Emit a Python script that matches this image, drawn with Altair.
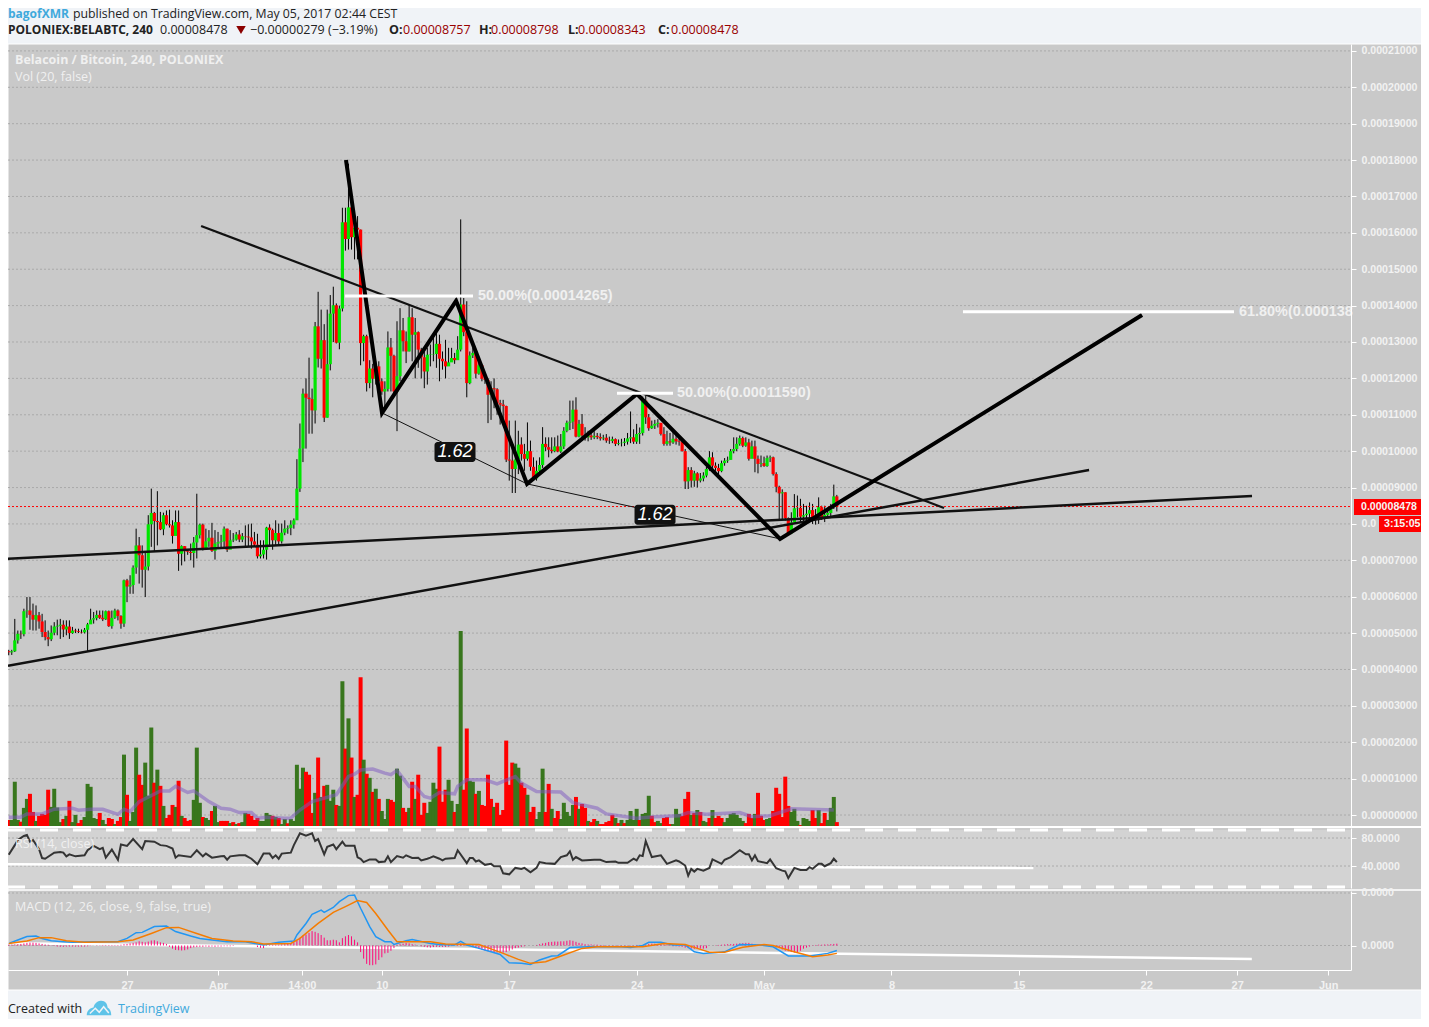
import json
import altair as alt
import pandas as pd

# ---- candles, in units of 0.00001 BTC (open of each bar = close of previous bar)
first_open = 4.50
closes = [
 4.47,4.50,4.80,4.98,4.97,5.60,5.62,5.50,5.37,5.49,
 5.32,5.03,4.89,4.83,5.01,5.18,5.20,5.23,5.10,5.18,
 5.00,5.07,5.05,5.03,5.02,5.09,5.24,5.37,5.41,5.50,
 5.42,5.38,5.60,5.19,5.42,5.62,5.47,5.26,6.45,6.28,
 6.32,6.80,7.41,7.14,6.74,6.83,7.99,8.30,8.08,8.05,
 7.85,8.24,7.99,7.96,7.67,8.05,7.18,7.39,7.25,7.23,
 7.20,7.49,7.69,7.98,7.32,7.52,7.62,7.26,7.46,7.50,
 7.52,7.87,7.29,7.55,7.57,7.71,7.57,7.66,7.65,7.63,
 7.52,7.43,7.11,7.16,7.29,7.90,7.83,7.55,7.75,7.52,
 7.76,7.87,7.89,7.98,8.10,8.97,10.07,11.58,11.47,11.43,
 11.12,13.43,12.54,13.05,10.92,12.39,13.78,14.01,12.98,13.92,
 16.29,15.83,16.70,15.88,16.14,16.09,12.97,13.16,11.87,12.27,
 11.99,12.33,11.92,11.64,11.71,12.85,12.62,11.64,12.06,13.32,
 13.02,12.74,13.68,13.20,13.27,12.79,12.58,12.19,12.65,12.66,
 12.67,12.95,12.54,12.47,12.33,12.44,12.56,12.50,12.79,14.03,
 13.27,11.87,12.63,12.70,12.13,12.36,11.99,11.96,11.55,11.73,
 11.70,11.32,11.28,11.24,9.77,9.74,9.51,9.77,10.18,9.92,
 9.79,10.00,9.57,9.25,9.46,9.62,10.20,10.11,10.04,10.00,
 10.13,9.99,10.13,10.56,10.78,10.81,11.14,10.40,10.75,10.43,
 10.38,10.43,10.38,10.42,10.39,10.35,10.37,10.29,10.28,10.33,
 10.20,10.22,10.23,10.26,10.35,10.38,10.26,10.47,10.50,11.39,
 10.93,10.63,10.70,10.75,10.78,10.47,10.20,10.27,10.24,10.34,
 10.27,10.25,10.00,9.17,9.48,9.19,9.39,9.19,9.25,9.33,
 9.51,9.83,9.60,9.54,9.45,9.67,9.74,9.76,10.00,10.06,
 10.20,10.36,10.15,10.24,9.79,10.13,9.79,9.65,9.67,9.59,
 9.81,9.83,9.37,9.02,8.84,8.87,8.16,7.74,8.04,8.43,
 8.44,8.20,8.24,8.28,8.38,8.16,8.22,8.46,8.18,8.25,
 8.30,8.46,8.757,8.478]
highs = [
 4.54,4.54,5.39,5.07,5.07,5.67,5.99,5.99,5.81,5.76,
 5.58,5.53,5.35,5.07,5.21,5.30,5.37,5.39,5.35,5.35,
 5.35,5.17,5.12,5.12,5.10,5.14,5.28,5.67,5.58,5.62,
 5.62,5.62,5.62,5.62,5.62,5.67,5.65,5.49,6.47,6.49,
 6.59,6.86,7.87,7.64,7.41,7.23,8.24,8.97,8.33,8.90,
 8.33,8.31,8.37,8.39,8.10,8.37,8.37,7.41,7.39,7.30,
 7.46,7.64,8.83,8.01,8.01,7.87,7.83,8.03,7.83,7.78,
 7.70,7.93,7.87,7.83,7.75,7.78,7.83,7.75,7.96,7.99,
 8.01,7.78,7.73,7.55,7.55,7.92,7.99,7.87,8.10,8.01,
 8.01,8.10,7.96,8.10,8.15,9.78,10.76,11.72,12.00,12.57,
 11.72,13.55,14.38,13.89,13.49,13.89,14.29,14.52,14.06,14.00,
 16.69,16.69,17.90,17.00,16.46,16.46,16.09,13.20,13.20,12.50,
 12.40,12.47,12.47,12.00,11.92,13.29,13.11,12.65,13.57,13.93,
 13.66,13.29,14.03,13.93,13.66,13.29,12.84,12.74,12.84,12.93,
 13.25,13.29,13.20,12.74,13.06,12.84,12.84,12.70,13.16,16.37,
 14.21,14.12,12.74,12.84,12.74,12.56,12.38,12.03,12.00,11.92,
 12.00,11.73,11.41,11.41,11.25,10.84,10.10,10.84,10.56,10.38,
 10.20,10.79,10.29,9.83,9.74,9.83,10.66,10.38,10.38,10.38,
 10.38,10.43,10.47,10.66,10.84,11.39,11.39,11.48,10.86,11.02,
 10.66,10.56,10.50,10.55,10.50,10.49,10.45,10.47,10.40,10.40,
 10.35,10.32,10.34,10.36,10.50,11.09,10.60,10.75,10.65,11.50,
 11.53,11.02,10.84,10.86,10.88,10.75,10.66,10.56,10.50,10.56,
 10.45,10.40,10.29,10.06,9.56,9.56,9.46,9.42,9.40,9.42,
 9.57,10.00,9.97,9.69,9.65,9.74,9.81,9.85,10.06,10.38,
 10.38,10.43,10.40,10.38,10.34,10.29,10.29,9.88,9.88,9.85,
 9.88,9.88,9.85,9.42,9.05,8.95,8.87,8.18,8.32,8.82,
 8.78,8.69,8.55,8.50,8.59,8.55,8.41,8.73,8.50,8.50,
 8.45,8.55,9.08,8.798]
lows = [
 4.39,4.40,4.48,4.71,4.84,4.91,5.42,5.09,5.07,5.07,
 5.12,4.89,4.80,4.64,4.78,4.94,4.94,4.84,4.89,4.94,
 4.84,4.98,5.00,5.00,4.99,4.99,4.48,5.26,5.26,5.35,
 5.39,5.33,5.36,5.17,5.12,5.39,5.35,5.12,5.17,5.85,
 6.08,6.08,6.63,6.36,6.25,5.99,6.72,7.37,7.23,7.41,
 7.83,7.69,7.96,7.90,7.46,7.73,6.71,6.86,6.97,7.15,
 7.00,6.80,7.05,7.60,7.27,7.29,7.37,7.23,7.02,7.32,
 7.35,7.32,7.23,7.32,7.50,7.54,7.50,7.50,7.37,7.38,
 7.32,7.37,7.05,7.05,7.05,7.02,7.37,7.29,7.41,7.41,
 7.46,7.69,7.73,7.69,7.87,8.12,8.88,9.70,10.07,10.48,
 10.48,10.76,12.30,12.27,10.80,10.92,12.22,13.00,12.96,12.80,
 13.84,15.51,15.54,15.54,15.27,15.27,12.36,12.47,11.64,11.73,
 11.48,11.83,11.55,11.55,11.18,11.64,11.64,11.55,10.55,11.92,
 12.74,12.42,12.74,12.47,12.00,12.29,12.00,11.73,11.83,12.33,
 12.47,12.29,11.92,12.24,12.00,12.38,12.47,12.40,12.52,12.74,
 13.16,11.48,11.84,12.56,12.00,12.10,11.92,11.85,10.77,10.86,
 11.18,11.00,10.73,10.73,9.70,9.19,8.85,8.85,9.37,9.74,
 9.46,9.74,9.46,9.19,9.19,9.42,9.54,10.00,9.83,9.94,
 9.97,9.97,9.95,10.06,10.52,10.58,10.61,10.38,10.38,10.38,
 10.29,10.27,10.31,10.33,10.33,10.29,10.30,10.23,10.20,10.22,
 10.14,10.16,10.13,10.14,10.18,10.22,10.20,10.20,10.20,10.43,
 10.75,10.56,10.61,10.61,10.65,10.43,10.15,10.15,10.15,10.20,
 10.18,10.15,9.99,8.96,8.96,9.00,9.02,9.00,9.14,9.17,
 9.28,9.46,9.54,9.46,9.37,9.42,9.60,9.68,9.77,9.94,
 10.00,10.15,10.11,10.12,9.74,9.97,9.42,9.39,9.56,9.57,
 9.57,9.70,9.33,8.87,8.13,8.13,8.09,7.72,7.72,8.09,
 8.18,8.04,8.00,8.09,8.04,8.00,7.98,8.00,8.11,8.05,
 8.16,8.16,8.41,8.343]

# ---- volume (tallest bar = 100) and its colour, one letter per bar
volumes = [
 3.1,3.1,22.7,3.1,2.2,9.3,13.9,16.5,7.2,2.6,
 5.2,6.2,5.7,18.6,9.8,19.1,9.5,2.0,3.6,5.2,
 12.9,2.0,5.7,1.5,3.1,4.6,21.6,20.1,4.1,3.6,
 6.7,3.1,1.0,4.1,3.6,1.0,2.6,4.6,36.6,16.0,
 2.6,7.2,40.2,26.3,21.1,32.5,15.5,50.5,22.2,28.9,
 20.6,10.3,4.1,5.7,10.8,9.8,23.2,5.2,4.1,2.6,
 3.1,13.4,40.2,11.9,4.6,4.1,3.1,7.7,10.3,2.0,
 2.6,2.6,2.6,1.5,2.0,1.0,1.5,2.0,6.7,6.2,
 5.2,3.1,4.1,2.6,2.6,6.7,5.7,5.2,4.6,4.1,
 1.0,3.6,1.4,3.6,2.6,31.4,19.1,29.9,27.8,26.3,
 6.7,17.0,35.1,14.9,20.6,21.1,12.9,18.6,10.8,10.3,
 74.2,39.7,55.2,35.1,14.9,16.0,76.3,34.0,26.8,24.7,
 17.5,19.1,13.9,7.7,3.6,13.9,13.4,12.4,29.4,25.8,
 9.3,7.2,9.3,22.7,13.9,26.3,5.7,11.9,6.7,12.4,
 22.2,19.1,40.7,12.4,18.6,23.7,12.9,7.2,11.3,100.0,
 18.6,50.0,23.2,22.7,16.5,18.0,10.8,10.3,26.3,13.9,
 9.8,11.9,5.7,8.2,43.8,21.1,32.5,32.0,29.9,22.2,
 19.6,16.0,7.2,9.8,3.6,7.2,29.4,7.2,21.6,8.8,
 4.1,7.7,3.6,11.9,7.2,5.2,10.8,14.9,8.8,11.3,
 9.3,2.6,2.0,3.6,2.6,1.0,1.0,2.0,2.6,5.7,
 4.1,1.5,3.1,1.5,3.1,7.7,3.1,8.8,3.1,6.2,
 6.7,15.5,5.2,2.0,2.6,1.5,4.1,4.6,1.0,1.0,
 8.8,6.2,5.2,13.9,17.5,5.7,6.7,8.2,7.2,2.6,
 2.0,4.1,8.2,4.1,5.2,4.1,2.0,4.1,6.2,6.7,
 5.7,4.1,2.6,1.5,6.2,4.1,6.2,17.0,5.2,3.1,
 3.6,4.1,7.7,19.6,16.5,4.6,25.3,10.3,7.2,8.8,
 2.6,0.5,4.1,3.6,2.6,8.2,4.1,8.2,1.5,6.7,
 3.1,9.3,14.9,2.0]
volume_sides = (
 "rgggrggrrg" "rrrrggggrg" "rggrrggggg" "rggrrgrrgr" "gggrrgggrg"
 "rgrrrgrgrr" "rgggrggrgg" "rrrgrgrggr" "rrrggggrgr" "ggrgggggrr"
 "rgrgrgggrg" "grgrgrrgrg" "rgrgggrrgg" "rrgrgrrrgg" "ggrrrggrgg"
 "rrggrgrrrr" "grrrrrrggr" "rgrrgggrrg" "rrgggggrgr" "rgrrgrrrrr"
 "grgrggggrg" "ggrrggrrrg" "ggrrrgrgrg" "grgrrrgggg" "gggrrrgrrr"
 "ggrrrrrrgg" "grgggrrgrr" "gggr")

vol_ma_bars = [0,4,6,11,15,21,23,27,31,36,38,40,43,50,53,55,59,61,66,70,73,76,80,82,85,91,93,96,100,108,
 112,114,116,120,124,126,128,132,134,137,139,142,147,148,151,157,161,167,169,174,182,186,194,197,207,213,221,224,230,241,245,251,258,272]
vol_ma_vals = [4.5,4.5,6.2,6.2,8.6,9.1,8.1,8.6,8.6,6.0,8.6,7.4,12.5,18.0,18.0,20.3,17.2,18.0,12.5,9.1,8.6,6.9,6.9,4.0,4.5,4.0,4.1,8.2,12.5,16.0,
 25.4,26.6,28.7,29.2,27.1,26.3,28.5,20.3,20.3,15.1,14.3,17.2,16.5,20.3,23.7,23.7,21.6,25.4,22.0,17.7,17.4,12.0,9.1,6.2,4.0,4.8,5.2,6.9,6.0,6.9,4.8,5.3,8.8,8.2]

# ---- RSI
rsi_bars = [0,2,3,5,6,7,8,10,11,12,15,17,18,19,20,22,25,26,28,30,31,32,34,36,37,39,41,44,45,48,50,52,54,55,56,60,62,64,65,67,70,71,72,73,76,78,80,82,84,86,87,88,89,90,93,94,96,98,100,101,102,104,105,107,108,110,111,114,115,116,117,119,121,122,124,125,126,128,130,131,133,135,136,138,
 139,140,142,143,144,147,148,151,152,153,154,155,157,159,160,162,163,165,167,169,170,172,174,175,177,180,182,184,185,186,187,189,193,195,197,200,201,204,206,207,208,209,210,212,215,217,220,221,223,224,225,226,227,229,231,232,235,236,238,241,243,244,245,246,247,250,251,253,255,256,257,259,261,263,264,265,267,268,269,271,272,273]
rsi_vals = [56.2,69.8,77.1,82.9,84.4,74.7,77.1,64.0,51.4,50.4,59.1,60.1,59.1,53.8,56.7,53.8,55.3,62.5,68.8,64.0,65.9,51.9,63.5,49.0,70.8,68.8,78.5,64.0,75.6,74.7,69.8,68.8,65.0,51.9,55.3,52.8,62.5,53.8,57.7,51.9,53.8,54.3,49.0,53.8,55.3,55.3,50.4,42.7,57.7,57.7,51.4,55.3,50.4,57.7,59.1,69.8,86.8,83.4,86.8,75.6,78.5,56.7,67.4,70.8,64.0,74.7,68.8,68.8,52.4,50.4,45.6,49.4,49.4,45.6,46.5,53.8,45.6,54.3,51.9,55.3,51.4,51.9,48.0,50.4,
 51.9,53.8,50.4,48.0,50.4,51.4,62.5,44.1,51.4,51.4,46.5,48.0,41.7,43.1,39.7,39.7,29.6,28.1,37.3,35.9,37.3,31.0,37.3,45.6,44.1,43.1,52.8,55.3,61.1,49.0,52.8,48.0,49.0,49.0,45.6,46.5,44.6,44.6,50.4,48.0,55.3,54.3,75.6,52.8,55.3,43.1,48.0,46.5,40.7,26.2,35.9,32.0,35.9,33.4,37.3,49.4,43.1,49.0,52.8,62.5,56.7,56.7,48.0,55.3,47.0,44.1,49.4,36.8,33.4,32.5,22.8,37.3,34.4,34.4,38.3,35.9,43.1,43.1,39.7,44.1,50.4,45.6]
rsi_levels = [91.6, 10.2]
rsi_ticks = [80, 40]

# ---- MACD, in units of 0.00001
macd_bars = [0,3,6,9,11,14,18,21,28,36,39,42,44,48,52,55,60,63,67,72,78,84,89,94,95,98,100,103,104,107,109,112,114,116,119,121,124,126,127,131,133,139,
 142,147,149,151,155,159,162,165,169,172,175,179,181,185,191,196,202,205,209,211,215,219,223,226,229,236,241,248,252,257,264,270,273]
macd_vals = [.08,.21,.34,.36,.27,.18,.145,.12,.145,.145,.27,.49,.5,.72,.74,.53,.36,.27,.21,.145,.145,.02,.12,.17,.40,.84,1.19,1.35,1.26,1.45,1.67,1.9,1.92,1.42,.72,.34,.145,.145,.04,.18,.23,.08,
 .04,.02,.16,.02,-.11,-.24,-.34,-.66,-.68,-.72,-.55,-.4,-.39,-.08,-.05,-.05,-.05,-.08,0,.12,.12,.02,.02,-.24,-.3,-.24,.04,.02,-.05,-.4,-.4,-.3,-.19]
signal_bars = [0,6,10,14,19,25,36,41,47,52,56,62,67,74,80,84,93,96,102,107,111,115,118,121,125,128,139,
 144,155,159,163,168,172,177,183,189,194,209,216,223,227,231,236,242,249,252,258,265,270,273]
signal_vals = [.08,.17,.30,.30,.18,.12,.145,.21,.46,.68,.69,.46,.27,.17,.145,.06,.08,.27,.84,1.26,1.48,1.71,1.64,1.22,.59,.145,.145,
 .06,.04,-.13,-.3,-.53,-.68,-.62,-.36,-.11,-.05,-.05,.08,.04,-.11,-.26,-.26,-.07,.04,0,-.21,-.43,-.36,-.3]
macd_hist = [
 .03,.03,.04,.05,.06,.08,.1,.11,.11,.1,.08,.06,.04,.03,.01,-.02,-.04,-.05,-.05,-.04,
 -.04,-.04,-.04,-.04,-.04,-.04,-.03,-.01,0,.01,.01,.02,.02,.02,.02,.02,.02,.03,.05,.06,
 .08,.1,.12,.16,.14,.12,.15,.19,.2,.16,.12,.1,.06,
 -.05,-.12,-.17,-.18,-.19,-.18,-.15,-.1,-.07,-.06,-.05,-.05,
 -.04,-.05,-.04,-.05,-.04,-.04,-.03,-.03,-.03,-.02,
 0,0,0,0,0,0,0,
 -.06,-.09,-.1,
 .02,.02,.03,.03,.03,.04,.05,.06,
 .06,.12,.2,.3,.38,.42,.48,.55,.52,.47,.4,.3,.2,.2,.22,.2,.12,.28,.35,.4,.35,.22,.12,
 -.25,-.5,-.7,-.75,-.75,-.72,-.55,-.45,-.3,-.28,-.2,-.1,
 .03,.05,.07,.1,.08,.05,.03,0,-.03,-.05,-.07,-.08,
 -.06,-.05,-.05,-.05,-.05,-.04,-.02,0,
 .04,.08,.06,.04,.02,
 -.05,-.1,-.13,-.16,-.2,-.22,-.22,-.25,-.27,-.27,-.27,-.25,-.2,-.15,-.1,-.08,-.05,-.03,
 0,0,0,
 .02,.05,.08,.1,.13,.14,.15,.15,.16,.16,.18,.2,.18,.14,.1,.08,.05,.04,.04,.03,.03,.02,.02,
 .01,.01,.01,.01,.01,.01,.01,.01,.01,.01,
 .02,.02,.02,.03,
 .06,.07,.07,.06,.05,.04,.03,.02,
 -.03,-.03,-.04,-.05,
 -.08,-.1,-.12,-.13,-.13,-.12,-.12,-.1,
 0,0,.01,
 .02,.03,.04,.05,.05,.06,.07,.08,.09,.1,.1,
 .07,.05,.03,.02,0,0,-.02,-.03,
 -.08,-.1,-.15,-.2,-.22,-.25,-.27,-.25,-.2,-.12,-.08,-.04,
 .01,.02,.03,.03,.04,.04,.05,.06,.07]

# ---- axes
price_ticks = list(range(0, 22))
macd_ticks = [0, 2]
last_price = 8.478
day_ticks = [0, 5, 9.6, 14, 21, 28, 35, 42, 49, 56, 61, 66]
day_labels = ["27", "Apr", "14:00", "10", "17", "24", "May", "8", "15", "22", "27", "Jun"]

# ---- hand-drawn lines: (days since 27 Mar, price in 0.00001)
falling_trend = ([4.07, 44.89], [16.19, 8.44])
flat_support = ([-6.54, 61.81], [7.04, 8.77])
rising_support = ([-6.54, 52.86], [4.10, 9.48])
zigzag = ([12.03, 14.01, 18.08, 21.98, 28.02, 35.88, 55.77], [18.0, 11.05, 14.13, 9.10, 11.57, 7.59, 13.74])
thin_base = ([14.01, 21.98, 35.88], [11.05, 9.10, 7.59])
fib_lines = [([11.98, 19.01], 14.265), ([26.92, 30.0], 11.59), ([45.93, 60.82], 13.83)]
fib_labels = ["50.00%(0.00014265)", "50.00%(0.00011590)", "61.80%(0.000138"]
fib_label_days = [19.29, 30.22, 61.1]
ratio_days = [18.02, 29.01]
ratio_vals = [9.98, 8.25]
ratio_text = ["1.62", "1.62"]
rsi_trend = ([-6.54, 49.8], [42.5, 37.0])
macd_trend = ([-6.54, 61.8], [.09, -.51])

# ---- scales
UNIT = 1e-5
BAR0, BARSTEP = -6.5, 1 / 6
PAGE = "#f0f3f7"
PANEL = "#c9c9c9"
W, H, PLOT_R = 1413, 1011, 1343
XS = alt.Scale(domain=[-6.54, 67.25], range=[0, PLOT_R], nice=False, zero=False, padding=0)
PS = alt.Scale(domain=[-0.302 * UNIT, 21.19 * UNIT], range=[818, 36], nice=False, zero=False)
VS = alt.Scale(domain=[0, 100], range=[818, 623], nice=False, zero=False)
RS = alt.Scale(domain=[8.6, 94.3], range=[880, 820], nice=False, zero=False)
MS = alt.Scale(domain=[-0.933 * UNIT, 2.076 * UNIT], range=[962, 883], nice=False, zero=False)

def day(bar):
    return BAR0 + bar * BARSTEP

def x_enc(axis=None):
    return alt.X("d:Q", scale=XS, axis=axis, title=None)

def line_df(days, vals, k=UNIT):
    return pd.DataFrame({"d": days, "v": [v * k for v in vals]})

def line_layer(days, vals, color, width, scale=PS, k=UNIT, **kw):
    return alt.Chart(line_df(days, vals, k)).mark_line(color=color, strokeWidth=width, clip=False, **kw).encode(
        x=x_enc(), y=alt.Y("v:Q", scale=scale, axis=None, title=None))

BLANK = alt.Data(values=[{}])

def txt(s, x, y, color="#f0f0f0", size=12.5, font="Open Sans", weight="normal", align="left", style="normal"):
    return alt.Chart(BLANK).mark_text(align=align, baseline="middle", color=color, fontSize=size, font=font,
                                      fontWeight=weight, fontStyle=style).encode(
        x=alt.value(x - 8), y=alt.value(y - 8), text=alt.value(s))

def box(x0, x1, y0, y1, color, **kw):
    return alt.Chart(BLANK).mark_rect(color=color, **kw).encode(
        x=alt.value(x0 - 8), x2=alt.value(x1 - 8), y=alt.value(y0 - 8), y2=alt.value(y1 - 8))

def hline(x0, x1, y, color="white", width=1):
    return alt.Chart(BLANK).mark_rule(color=color, strokeWidth=width).encode(
        x=alt.value(x0 - 8), x2=alt.value(x1 - 8), y=alt.value(y - 8))

def y_axis(ticks, fmt, label_expr=None):
    kw = dict(orient="right", offset=PLOT_R - W, values=ticks, format=fmt, grid=False, zindex=1, title=None,
              domainColor="white", tickColor="white", tickSize=5, labelColor="#f2f2f2", labelFont="Liberation Sans",
              labelFontSize=10.6, labelFontWeight="bold", labelPadding=5, labelOverlap=False, labelFlush=False)
    if label_expr:
        kw["labelExpr"] = label_expr
    return alt.Axis(**kw)

def grid_layer(ticks, k, scale, axis):
    df = pd.DataFrame({"v": [t * k for t in ticks]})
    return alt.Chart(df).mark_rule(color="#aaaaaa", strokeWidth=1, strokeDash=[2, 2]).encode(
        y=alt.Y("v:Q", scale=scale, axis=axis, title=None), x=alt.value(0), x2=alt.value(PLOT_R))

# ---- frames
n = len(closes)
opens = [first_open] + closes[:-1]
candles = pd.DataFrame({
    "d": [day(i) for i in range(n)],
    "o": [v * UNIT for v in opens], "c": [v * UNIT for v in closes],
    "h": [v * UNIT for v in highs], "l": [v * UNIT for v in lows],
    "up": [c >= o for o, c in zip(opens, closes)],
})
vol = pd.DataFrame({"d": [day(i) for i in range(n)], "v": volumes, "side": list(volume_sides)})
hist = pd.DataFrame({"d": [day(i) for i in range(n)], "v": [v * UNIT for v in macd_hist], "z": [0.0] * n})

price_label_expr = "abs(datum.value-8e-5)<1e-7 ? '0.0' : format(datum.value,'.8f')"
x_axis = alt.Axis(values=day_ticks, offset=962 - H, zindex=1, grid=False, title=None, domainColor="white", tickColor="white",
                  tickSize=5, labelColor="#f2f2f2", labelFont="Liberation Sans", labelFontSize=11, labelFontWeight="bold",
                  labelPadding=4, labelOverlap=False, labelFlush=False,
                  labelExpr=f"{json.dumps(day_labels)}[indexof({json.dumps(day_ticks)}, datum.value)]")

layers = [
    box(8, 1422, 44, 990, PANEL, stroke="white", strokeWidth=1),
    box(8, 1351, 830, 888, "#d3d3d3"),
    grid_layer(price_ticks, UNIT, PS, y_axis([t * UNIT for t in price_ticks], ".8f", price_label_expr)),
    grid_layer(rsi_ticks, 1, RS, y_axis(rsi_ticks, ".4f")),
    grid_layer(macd_ticks, UNIT, MS, y_axis([t * UNIT for t in macd_ticks], ".4f")),
]
# volume
layers.append(alt.Chart(vol).mark_bar(size=4).encode(
    x=x_enc(x_axis), y=alt.Y("v:Q", scale=VS, axis=None, title=None), y2=alt.datum(0),
    color=alt.Color("side:N", scale=alt.Scale(domain=["g", "r"], range=["#38761d", "#ff0000"]), legend=None)))
layers.append(line_layer([day(b) for b in vol_ma_bars], vol_ma_vals, "#7e57c2", 3.5, scale=VS, k=1, opacity=0.5))
# candles
layers.append(alt.Chart(candles).mark_rule(color="black", strokeWidth=1).encode(
    x=x_enc(), y=alt.Y("h:Q", scale=PS, axis=None, title=None), y2="l:Q"))
layers.append(alt.Chart(candles).mark_bar(size=3.2).encode(
    x=x_enc(), y=alt.Y("o:Q", scale=PS, axis=None, title=None), y2="c:Q",
    color=alt.Color("up:N", scale=alt.Scale(domain=[True, False], range=["#00e600", "#ff0000"]), legend=None)))
# last price
layers.append(alt.Chart(pd.DataFrame({"v": [last_price * UNIT]})).mark_rule(color="#ff0000", strokeWidth=1, strokeDash=[2, 2]).encode(
    y=alt.Y("v:Q", scale=PS, axis=None, title=None), x=alt.value(0), x2=alt.value(PLOT_R)))
# drawings
layers.append(line_layer(*thin_base, "#111111", 1))
layers.append(line_layer(*falling_trend, "#111111", 2.2))
layers.append(line_layer(*flat_support, "#111111", 2.5))
layers.append(line_layer(*rising_support, "#111111", 2.5))
layers.append(line_layer(*zigzag, "black", 4))
for days, v in fib_lines:
    layers.append(line_layer(days, [v, v], "white", 3))
layers.append(alt.Chart(pd.DataFrame({"d": fib_label_days, "v": [fib_lines[i][1] * UNIT for i in range(3)], "t": fib_labels})).mark_text(
    align="left", baseline="middle", color="#f0f0f0", font="Liberation Sans", fontWeight="bold", fontSize=14.4).encode(
    x=x_enc(), y=alt.Y("v:Q", scale=PS, axis=None, title=None), text="t:N"))
ratio_df = pd.DataFrame({"d": ratio_days, "v": [v * UNIT for v in ratio_vals], "t": ratio_text})
layers.append(alt.Chart(ratio_df).mark_rect(color="#111111", width=41, height=20, cornerRadius=3).encode(
    x=x_enc(), y=alt.Y("v:Q", scale=PS, axis=None, title=None)))
layers.append(alt.Chart(ratio_df).mark_text(color="white", font="Liberation Sans", fontStyle="italic", fontSize=18, baseline="middle").encode(
    x=x_enc(), y=alt.Y("v:Q", scale=PS, axis=None, title=None), text="t:N"))
# RSI
layers.append(alt.Chart(pd.DataFrame({"v": rsi_levels})).mark_rule(color="white", strokeWidth=3, strokeDash=[18, 15], strokeDashOffset=1).encode(
    y=alt.Y("v:Q", scale=RS, axis=None, title=None), x=alt.value(0), x2=alt.value(PLOT_R)))
layers.append(line_layer(*rsi_trend, "white", 2.5, scale=RS, k=1))
layers.append(line_layer([day(b) for b in rsi_bars], rsi_vals, "#222222", 2, scale=RS, k=1, opacity=0.9))
# MACD
layers.append(line_layer(*macd_trend, "white", 2.5, scale=MS))
layers.append(alt.Chart(hist).mark_rule(color="#ff0a78", strokeWidth=1).encode(
    x=x_enc(), y=alt.Y("v:Q", scale=MS, axis=None, title=None), y2="z:Q"))
layers.append(line_layer([day(b) for b in macd_bars], macd_vals, "#2196f3", 1.5, scale=MS))
layers.append(line_layer([day(b) for b in signal_bars], signal_vals, "#f57c00", 1.5, scale=MS))
# panel borders and price tags
layers += [
    hline(8, 1422, 827, width=2),
    hline(8, 1422, 890, width=1.5),
    box(1354, 1422, 499, 515, "#ff0000"),
    box(1379, 1422, 516, 532, "#ff0000"),
    txt("0.00008478", 1361, 507, color="#f5f5f5", size=10.6, font="Liberation Sans", weight="bold"),
    txt("3:15:05", 1384, 524, color="#f5f5f5", size=10.6, font="Liberation Sans", weight="bold"),
]
# panel captions
layers += [
    txt("Belacoin / Bitcoin, 240, POLONIEX", 15, 60, weight="bold"),
    txt("Vol (20, false)", 15, 77),
    txt("RSI (14, close)", 15, 844),
    txt("MACD (12, 26, close, 9, false, true)", 15, 907),
]
# header
NAVY = "#222222"
DARKRED = "#990000"
layers += [
    txt("bagofXMR", 8, 14, color="#3fa9dc", size=12, weight="bold"),
    txt("published on TradingView.com, May 05, 2017 02:44 CEST", 73, 14, color=NAVY, size=12.3),
    txt("POLONIEX:BELABTC, 240", 8, 30, color=NAVY, size=12, weight="bold"),
    txt("0.00008478", 160, 30, color=NAVY),
    txt("\u22120.00000279 (\u22123.19%)", 250, 30, color=NAVY),
    txt("O:", 389, 30, color=NAVY, weight="bold"),
    txt("0.00008757", 403, 30, color=DARKRED),
    txt("H:", 479, 30, color=NAVY, weight="bold"),
    txt("0.00008798", 491, 30, color=DARKRED),
    txt("L:", 568, 30, color=NAVY, weight="bold"),
    txt("0.00008343", 578, 30, color=DARKRED),
    txt("C:", 658, 30, color=NAVY, weight="bold"),
    txt("0.00008478", 671, 30, color=DARKRED),
    alt.Chart(BLANK).mark_point(shape="triangle-down", filled=True, color="#8b0000", size=90, opacity=1).encode(
        x=alt.value(241 - 8), y=alt.value(30 - 8)),
]
# footer
CLOUD = "M-1 .6C-1 .15-.7 0-.45-.05-.35-.45-.05-.6 .2-.6 .5-.6 .7-.35 .7-.05 .9 .05 1 .3 1 .6Z"
RIDGE = "M-.75 .45L-.3 .02L.02 .35L.38 -.1L.8 .4"
layers += [
    txt("Created with", 8, 1009, color=NAVY),
    alt.Chart(BLANK).mark_point(shape=CLOUD, filled=True, color="#5ec3e8", size=600, opacity=1).encode(
        x=alt.value(99 - 8), y=alt.value(1008 - 8)),
    alt.Chart(BLANK).mark_point(shape=RIDGE, filled=False, color=PAGE, strokeWidth=1.5, size=600, opacity=1).encode(
        x=alt.value(99 - 8), y=alt.value(1008 - 8)),
    txt("TradingView", 118, 1009, color="#3fa9dc"),
]

chart = alt.layer(*layers).resolve_scale(y="independent", color="independent").resolve_axis(x="independent").properties(
    width=W, height=H, padding=0, background=PAGE, autosize=alt.AutoSizeParams(type="none"),
).configure_view(stroke=None)

chart.save("out.html", embed_options={"renderer": "svg", "actions": False})
